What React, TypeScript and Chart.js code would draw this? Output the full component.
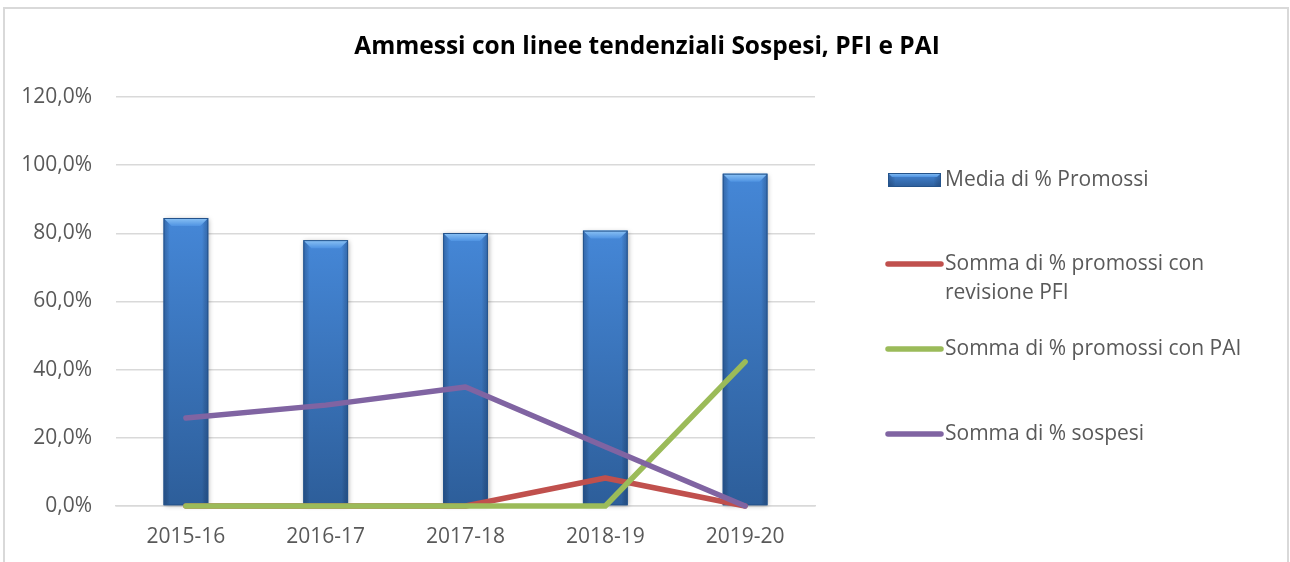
import React, { useEffect, useRef } from "react";
import { Chart, registerables } from "chart.js";

Chart.register(...registerables);

const TITLE = "Ammessi con linee tendenziali Sospesi, PFI e PAI";
const categories = ["2015-16", "2016-17", "2017-18", "2018-19", "2019-20"];
const mediaPromossi = [84.5, 78.0, 80.1, 80.8, 97.5];
const promossiPFI = [0, 0, 0, 8.2, 0];
const promossiPAI = [0, 0, 0, 0, 42.3];
const sospesi = [25.8, 29.6, 34.9, 17.4, 0];
const yTicks = [0, 20, 40, 60, 80, 100, 120];

const seriesLabels = [
  "Media di % Promossi",
  "Somma di % promossi con revisione PFI",
  "Somma di % promossi con PAI",
  "Somma di % sospesi",
];

const AXIS_FONT = { family: "'Open Sans', sans-serif", size: 21 };
const TEXT_GRAY = "#595959";

function drawBevelBar(ctx: CanvasRenderingContext2D, l: number, t: number, r: number, b: number, bevelMax: number, shadow: boolean) {
  const w = r - l;
  const h = b - t;
  if (w <= 0 || h <= 0) return;
  ctx.save();
  if (shadow) {
    ctx.shadowColor = "rgba(0,0,0,0.35)";
    ctx.shadowBlur = 5;
    ctx.shadowOffsetX = 1;
    ctx.shadowOffsetY = 1;
  }
  const g = ctx.createLinearGradient(0, t, 0, b);
  g.addColorStop(0, "#4587d7");
  g.addColorStop(1, "#2d5e9a");
  ctx.fillStyle = g;
  ctx.fillRect(l, t, w, h);
  ctx.restore();

  ctx.save();
  const hg = ctx.createLinearGradient(l, 0, r, 0);
  hg.addColorStop(0, "rgba(10,30,70,0.28)");
  hg.addColorStop(0.14, "rgba(0,0,0,0)");
  hg.addColorStop(0.86, "rgba(0,0,0,0)");
  hg.addColorStop(1, "rgba(10,30,70,0.28)");
  ctx.fillStyle = hg;
  ctx.fillRect(l, t, w, h);

  const bv = Math.min(bevelMax, w / 4, h / 2);
  ctx.beginPath();
  ctx.moveTo(l, t);
  ctx.lineTo(r, t);
  ctx.lineTo(r - bv, t + bv);
  ctx.lineTo(l + bv, t + bv);
  ctx.closePath();
  const tg = ctx.createLinearGradient(0, t, 0, t + bv);
  tg.addColorStop(0, "#8cc3f5");
  tg.addColorStop(1, "#4f93e2");
  ctx.fillStyle = tg;
  ctx.fill();

  ctx.strokeStyle = "#24538b";
  ctx.lineWidth = 1;
  ctx.strokeRect(l + 0.5, t + 0.5, w - 1, h - 1);
  ctx.restore();
}

const bevelBarsPlugin = {
  id: "bevelBars",
  afterDatasetDraw(chart: any, args: any) {
    if (args.index !== 0) return;
    const ctx = chart.ctx as CanvasRenderingContext2D;
    args.meta.data.forEach((el: any) => {
      const p = el.getProps(["x", "y", "base", "width"], true);
      drawBevelBar(ctx, p.x - p.width / 2, Math.min(p.y, p.base), p.x + p.width / 2, Math.max(p.y, p.base), 8, true);
    });
  },
};

const centeredTitlePlugin = {
  id: "centeredTitle",
  afterDraw(chart: any, _args: any, opts: any) {
    const ctx = chart.ctx as CanvasRenderingContext2D;
    ctx.save();
    ctx.font = `bold ${opts.fontSize}px 'Open Sans', sans-serif`;
    ctx.fillStyle = "#000000";
    ctx.textAlign = "center";
    ctx.textBaseline = "middle";
    ctx.fillText(opts.text, chart.width / 2 + opts.dx, opts.y);
    ctx.restore();
  },
};

function wrapText(ctx: CanvasRenderingContext2D, text: string, maxW: number): string[] {
  const words = text.split(" ");
  const lines: string[] = [];
  let cur = "";
  for (const w of words) {
    const test = cur ? cur + " " + w : w;
    if (ctx.measureText(test).width > maxW && cur) {
      lines.push(cur);
      cur = w;
    } else cur = test;
  }
  if (cur) lines.push(cur);
  return lines;
}

const customLegendPlugin = {
  id: "customLegend",
  afterDraw(chart: any, _args: any, opts: any) {
    const ctx = chart.ctx as CanvasRenderingContext2D;
    const x0 = chart.chartArea.right + opts.offsetX;
    ctx.save();
    ctx.font = `${opts.fontSize}px 'Open Sans', sans-serif`;
    ctx.textBaseline = "middle";
    ctx.textAlign = "left";
    chart.data.datasets.forEach((ds: any, i: number) => {
      const y = opts.rows[i];
      if (ds.type === "bar") {
        drawBevelBar(ctx, x0 + 2, y - 7, x0 + 55, y + 7, 4, false);
      } else {
        ctx.strokeStyle = ds.borderColor;
        ctx.lineWidth = 5.5;
        ctx.lineCap = "round";
        ctx.beginPath();
        ctx.moveTo(x0 + 2, y);
        ctx.lineTo(x0 + 55, y);
        ctx.stroke();
      }
      ctx.fillStyle = TEXT_GRAY;
      const lines = wrapText(ctx, ds.label, opts.maxWidth);
      lines.forEach((ln, k) => ctx.fillText(ln, x0 + 59, y + k * opts.lineHeight));
    });
    ctx.restore();
  },
};

const lineStyle = {
  type: "line",
  borderWidth: 5.5,
  borderCapStyle: "round",
  borderJoinStyle: "round",
  pointRadius: 0,
  tension: 0,
  clip: false,
};

export default function App() {
  const canvasRef = useRef<HTMLCanvasElement | null>(null);

  useEffect(() => {
    if (!canvasRef.current) return;
    const chart = new Chart(canvasRef.current, {
      data: {
        labels: categories,
        datasets: [
          {
            type: "bar",
            label: seriesLabels[0],
            data: mediaPromossi,
            backgroundColor: "rgba(0,0,0,0)",
            borderWidth: 0,
            barPercentage: 0.32,
            categoryPercentage: 1,
            order: 4,
          },
          { ...lineStyle, label: seriesLabels[1], data: promossiPFI, borderColor: "#c0504d", backgroundColor: "#c0504d", order: 3 },
          { ...lineStyle, label: seriesLabels[2], data: promossiPAI, borderColor: "#9bbb59", backgroundColor: "#9bbb59", order: 2 },
          { ...lineStyle, label: seriesLabels[3], data: sospesi, borderColor: "#8064a2", backgroundColor: "#8064a2", order: 1 },
        ],
      } as any,
      options: {
        animation: false,
        responsive: false,
        layout: { padding: { left: 0, right: 475, top: 97, bottom: 0 } },
        plugins: {
          legend: { display: false },
          tooltip: { enabled: false },
          title: { display: false },
          centeredTitle: { text: TITLE, fontSize: 24.5, y: 47, dx: 2 },
          customLegend: {
            offsetX: 71,
            rows: [180, 264, 349, 434],
            lineHeight: 29,
            fontSize: 21,
            maxWidth: 300,
          },
        } as any,
        scales: {
          x: {
            grid: { display: false, drawTicks: false },
            border: { display: true, color: "#d9d9d9", width: 1.5 },
            ticks: { color: TEXT_GRAY, font: AXIS_FONT, padding: 18, maxRotation: 0 },
            afterFit: (s: any) => {
              s.height = 56;
            },
          },
          y: {
            min: 0,
            max: 120,
            afterBuildTicks: (s: any) => {
              s.ticks = yTicks.map((v) => ({ value: v }));
            },
            grid: { color: "#d9d9d9", lineWidth: 1.5, drawTicks: false },
            border: { display: false },
            ticks: {
              color: TEXT_GRAY,
              font: AXIS_FONT,
              padding: 24,
              callback: (v: any) => Number(v).toFixed(1).replace(".", ",") + "%",
            },
            afterFit: (s: any) => {
              s.width = 116;
            },
          },
        },
      } as any,
      plugins: [bevelBarsPlugin, centeredTitlePlugin, customLegendPlugin],
    });
    return () => chart.destroy();
  }, []);

  return (
    <div style={{ position: "fixed", left: 0, top: 0, width: 1290, height: 562, background: "#fff", overflow: "hidden" }}>
      <div
        style={{
          position: "absolute",
          left: 3,
          top: 7,
          width: 1286,
          height: 620,
          border: "2px solid #d9d9d9",
          boxSizing: "border-box",
        }}
      />
      <canvas ref={canvasRef} width={1290} height={562} style={{ position: "absolute", left: 0, top: 0 }} />
    </div>
  );
}
